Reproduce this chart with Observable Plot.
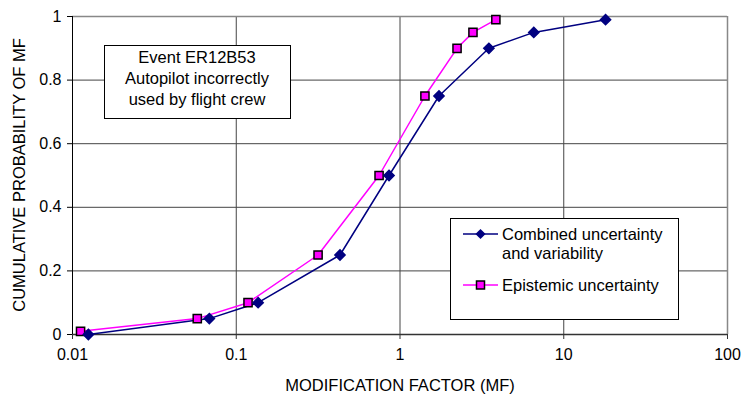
<!DOCTYPE html>
<html><head><meta charset="utf-8">
<script src="https://cdn.jsdelivr.net/npm/d3@7"></script>
<script src="https://cdn.jsdelivr.net/npm/@observablehq/plot@0.6"></script>
<style>body{margin:0;background:#fff}</style></head>
<body><div id="chart"></div>
<script>
const combinedProb = [0, 0.05, 0.1, 0.25, 0.5, 0.75, 0.9, 0.95, 0.99];
const combinedMF   = [0.0125, 0.0685, 0.136, 0.43, 0.857, 1.73, 3.49, 6.56, 18.0];
const epistemicProb = [0.01, 0.05, 0.1, 0.25, 0.5, 0.75, 0.9, 0.95, 0.99];
const epistemicMF   = [0.0112, 0.0578, 0.118, 0.316, 0.745, 1.42, 2.23, 2.79, 3.85];
const xTicks = [0.01, 0.1, 1, 10, 100];
const yTicks = [0, 0.2, 0.4, 0.6, 0.8, 1];
const seriesNames = ["Combined uncertainty and variability", "Epistemic uncertainty"];
const annotationLines = ["Event ER12B53", "Autopilot incorrectly", "used by flight crew"];
const xTitle = "MODIFICATION FACTOR (MF)";
const yTitle = "CUMULATIVE PROBABILITY OF MF";

const combined = combinedMF.map((x, i) => ({x, y: combinedProb[i]}));
const epistemic = epistemicMF.map((x, i) => ({x, y: epistemicProb[i]}));

const FONT = "'Liberation Sans', Arial, sans-serif";
const chart = Plot.plot({
  width: 742, height: 397,
  marginLeft: 72, marginRight: 15, marginTop: 16, marginBottom: 63,
  style: {fontFamily: FONT, fontSize: "16px", background: "#fff", color: "#000"},
  x: {type: "log", domain: [0.01, 100]},
  y: {domain: [0, 1]},
  marks: [
    Plot.gridX(xTicks.slice(1, -1), {stroke: "#444", strokeOpacity: 1}),
    Plot.gridY(yTicks.slice(1, -1), {stroke: "#444", strokeOpacity: 1}),
    Plot.ruleY([1], {stroke: "#888", strokeWidth: 1.5}),
    Plot.ruleX([100], {stroke: "#888", strokeWidth: 1.5}),
    Plot.ruleY([0], {stroke: "#333", strokeWidth: 1.5}),
    Plot.ruleX([0.01], {stroke: "#000"}),
    Plot.axisX({ticks: xTicks, tickFormat: d => String(d), tickSize: 5, tickPadding: 9, fontSize: 16, label: null, stroke: "#333"}),
    Plot.axisY({ticks: yTicks, tickFormat: d => String(d), tickSize: 5, tickPadding: 6, fontSize: 16, label: null}),
    Plot.line(epistemic, {x: "x", y: "y", stroke: "#FF00FF", strokeWidth: 1.5}),
    Plot.line(combined, {x: "x", y: "y", stroke: "#000080", strokeWidth: 1.5}),
    Plot.dot(epistemic, {x: "x", y: "y", symbol: "square", r: 4.6, fill: "#FF00FF", stroke: "#000", strokeWidth: 1.5}),
    Plot.dot(combined, {x: "x", y: "y", symbol: "diamond2", r: 4.6, fill: "#000080", stroke: "#000080"})
  ]
});
document.getElementById("chart").appendChild(chart);

const svg = d3.select(chart);
// axis titles
svg.append("text").attr("x", 400).attr("y", 391).attr("text-anchor", "middle")
  .style("font-family", FONT).style("font-size", "16.5px").text(xTitle);
svg.append("text").attr("transform", "translate(25,175) rotate(-90)").attr("text-anchor", "middle")
  .style("font-family", FONT).style("font-size", "16.5px").text(yTitle);

// annotation box
const ann = svg.append("g");
ann.append("rect").attr("x", 104.5).attr("y", 45.5).attr("width", 186).attr("height", 73)
  .attr("fill", "#fff").attr("stroke", "#000");
annotationLines.forEach((t, i) => {
  ann.append("text").attr("x", 197).attr("y", 63 + i * 21).attr("text-anchor", "middle")
    .style("font-family", FONT).style("font-size", "16.5px").text(t);
});

// legend box
const lg = svg.append("g");
lg.append("rect").attr("x", 450.5).attr("y", 218.5).attr("width", 228).attr("height", 101)
  .attr("fill", "#fff").attr("stroke", "#000");
lg.append("line").attr("x1", 463).attr("x2", 498).attr("y1", 234).attr("y2", 234)
  .attr("stroke", "#000080").attr("stroke-width", 1.5);
lg.append("path").attr("d", d3.symbol(d3.symbolDiamond2, Math.PI * 4.6 * 4.6)()).attr("transform", "translate(480.5,234)")
  .attr("fill", "#000080");
lg.append("line").attr("x1", 463).attr("x2", 498).attr("y1", 285).attr("y2", 285)
  .attr("stroke", "#FF00FF").attr("stroke-width", 1.5);
lg.append("rect").attr("x", 476.5).attr("y", 281).attr("width", 8).attr("height", 8)
  .attr("fill", "#FF00FF").attr("stroke", "#000").attr("stroke-width", 1.5);
const legendRows = [["Combined uncertainty", 240], ["and variability", 259], [seriesNames[1], 291]];
legendRows.forEach(([t, y]) => {
  lg.append("text").attr("x", 502).attr("y", y).attr("text-anchor", "start")
    .style("font-family", FONT).style("font-size", "16.5px").text(t);
});
</script>
</body></html>
